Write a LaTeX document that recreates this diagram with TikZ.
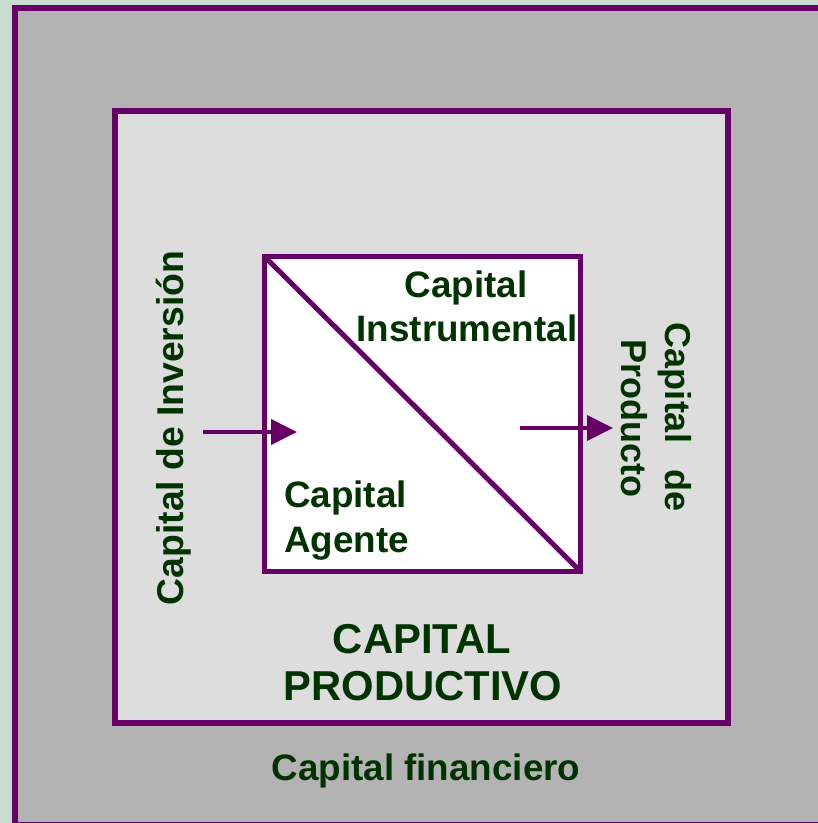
\documentclass[tikz,border=0pt]{standalone}
\usepackage{fontspec}
\setmainfont{Liberation Sans}
\usetikzlibrary{arrows.meta}
\definecolor{bgtex}{HTML}{C8DCD0}
\definecolor{outergray}{HTML}{B3B3B3}
\definecolor{innergray}{HTML}{DDDDDD}
\definecolor{plum}{HTML}{660066}
\definecolor{txtgreen}{HTML}{003300}
\begin{document}
\begin{tikzpicture}[x=1pt,y=-1pt,
  box/.style={draw=plum, rectangle, inner sep=0pt, outer sep=0pt},
  lbl/.style={text=txtgreen, font=\bfseries\fontsize{36.8}{44}\selectfont, inner sep=0pt},
  sidelbl/.style={text=txtgreen, font=\bfseries\fontsize{36}{43}\selectfont, inner sep=0pt},
  biglbl/.style={text=txtgreen, font=\bfseries\fontsize{41.8}{47}\selectfont, inner sep=0pt},
  arr/.style={draw=plum, line width=4pt, -{Triangle[length=26pt,width=25pt]}}]
\useasboundingbox (0,0) rectangle (818,823);
\fill[bgtex] (0,0) rectangle (818,823);
% outer box
\node[box, fill=outergray, line width=6pt, minimum width=810.5pt, minimum height=817pt] (outer) at (419.75,416.5) {};
% inner box
\node[box, fill=innergray, line width=6pt, minimum width=613pt, minimum height=612pt] (inner) at (421.5,417) {};
% white square
\node[box, fill=white, line width=5pt, minimum width=315.5pt, minimum height=314.5pt] (sq) at (422.25,413.75) {};
\draw[plum, line width=5pt] (sq.north west) -- (sq.south east);
% labels
\node[lbl, anchor=base] (ci1) at (466,297) {Capital};
\node[lbl, anchor=base] (ci2) at (467,341) {Instrumental};
\node[lbl, anchor=base west] (ca1) at (284,507) {Capital};
\node[lbl, anchor=base west] (ca2) at (284,552) {Agente};
\node[biglbl, anchor=base] (cp1) at (422,653) {CAPITAL};
\node[biglbl, anchor=base] (cp2) at (423,700) {PRODUCTIVO};
\node[lbl, anchor=base] (cf) at (426,780) {Capital financiero};
\node[lbl, font=\bfseries\fontsize{37.3}{44}\selectfont, rotate=90, anchor=base] (cinv) at (183,428) {Capital de Inversión};
\node[sidelbl, rotate=-90, anchor=base] (cpr1) at (665,417) {Capital\hspace{26pt}de};
\node[sidelbl, rotate=-90, anchor=base] (cpr2) at (621,418) {Producto};
% arrows
\coordinate (a1s) at (203,432);
\coordinate (a1e) at (297,432);
\coordinate (a2s) at (520,428);
\coordinate (a2e) at (613,428);
\draw[arr] (a1s) -- (a1e);
\draw[arr] (a2s) -- (a2e);
\end{tikzpicture}
\end{document}
